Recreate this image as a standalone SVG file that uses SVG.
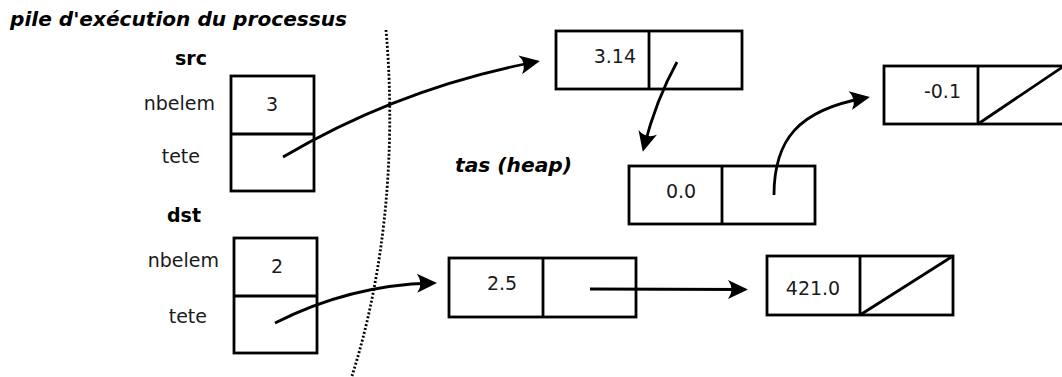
<svg xmlns="http://www.w3.org/2000/svg" width="1062" height="377" viewBox="0 0 1062 377">
  <style>
    .box { fill: #fff; stroke: #000; stroke-width: 2.8; }
    .ln { fill: none; stroke: #000; stroke-width: 2.8; }
    .conn { fill: none; stroke: #000; stroke-width: 2.8; marker-end: url(#arr); }
    .t { font-family: "DejaVu Sans", sans-serif; font-size: 19px; fill: #1a1a1a; }
    .b { font-family: "DejaVu Sans", sans-serif; font-size: 19px; font-weight: bold; fill: #000; }
    .bi { font-family: "DejaVu Sans", sans-serif; font-size: 19px; font-weight: bold; font-style: oblique; fill: #000; }
  </style>
  <defs>
    <marker id="arr" markerUnits="userSpaceOnUse" orient="auto" refX="-5" refY="0" viewBox="-21 -11 22 22" markerWidth="22" markerHeight="22" overflow="visible">
      <path d="M0,0 L-20,-9.5 Q-13,0 -20,9.5 Z" fill="#000"/>
    </marker>
  </defs>
  <rect width="1062" height="377" fill="#fff"/>

  <text class="bi" x="10" y="26" textLength="337" lengthAdjust="spacingAndGlyphs">pile d'exécution du processus</text>
  <text class="bi" x="455" y="172" textLength="117" lengthAdjust="spacingAndGlyphs">tas (heap)</text>

  <path class="ln" d="M386,30 C394,120 392,250 352,376" stroke-dasharray="2 2" stroke-width="2.5"/>

  <g id="src">
    <text class="b" x="191" y="65" text-anchor="middle">src</text>
    <text class="t" x="215" y="110" text-anchor="end">nbelem</text>
    <text class="t" x="200" y="163" text-anchor="end">tete</text>
    <rect class="box" x="231" y="76" width="83" height="115"/>
    <line class="ln" x1="231" y1="134" x2="314" y2="134"/>
    <text class="t" x="272" y="111" text-anchor="middle">3</text>
  </g>

  <g id="dst">
    <text class="b" x="184" y="222" text-anchor="middle">dst</text>
    <text class="t" x="219" y="267" text-anchor="end">nbelem</text>
    <text class="t" x="207" y="323" text-anchor="end">tete</text>
    <rect class="box" x="234" y="238" width="83" height="115"/>
    <line class="ln" x1="234" y1="296" x2="317" y2="296"/>
    <text class="t" x="277" y="273" text-anchor="middle">2</text>
  </g>

  <g id="n314">
    <rect class="box" x="556" y="31" width="186" height="58"/>
    <line class="ln" x1="649" y1="31" x2="649" y2="89"/>
    <text class="t" x="636" y="63" text-anchor="end">3.14</text>
  </g>

  <g id="n00">
    <rect class="box" x="629" y="166" width="186" height="58"/>
    <line class="ln" x1="722" y1="166" x2="722" y2="224"/>
    <text class="t" x="681" y="198" text-anchor="middle">0.0</text>
  </g>

  <g id="n01">
    <rect class="box" x="884" y="66" width="180" height="58"/>
    <line class="ln" x1="978" y1="66" x2="978" y2="124"/>
    <line class="ln" x1="978" y1="124" x2="1064" y2="66"/>
    <text class="t" x="961" y="98" text-anchor="end">-0.1</text>
  </g>

  <g id="n25">
    <rect class="box" x="449" y="258" width="187" height="59"/>
    <line class="ln" x1="543" y1="258" x2="543" y2="317"/>
    <text class="t" x="502" y="290" text-anchor="middle">2.5</text>
  </g>

  <g id="n421">
    <rect class="box" x="767" y="256" width="186" height="59"/>
    <line class="ln" x1="860" y1="256" x2="860" y2="315"/>
    <line class="ln" x1="860" y1="315" x2="953" y2="256"/>
    <text class="t" x="813" y="295" text-anchor="middle">421.0</text>
  </g>

  <g id="connectors">
    <path class="conn" d="M283,157 Q400,88 535,62"/>
    <path class="conn" d="M677,62 Q656,100 644,147"/>
    <path class="conn" d="M774,195 C774,140 798,110 865,98"/>
    <path class="conn" d="M275,323 Q350,285 432,283"/>
    <path class="conn" d="M590,289 L743,289.5"/>
  </g>
</svg>
